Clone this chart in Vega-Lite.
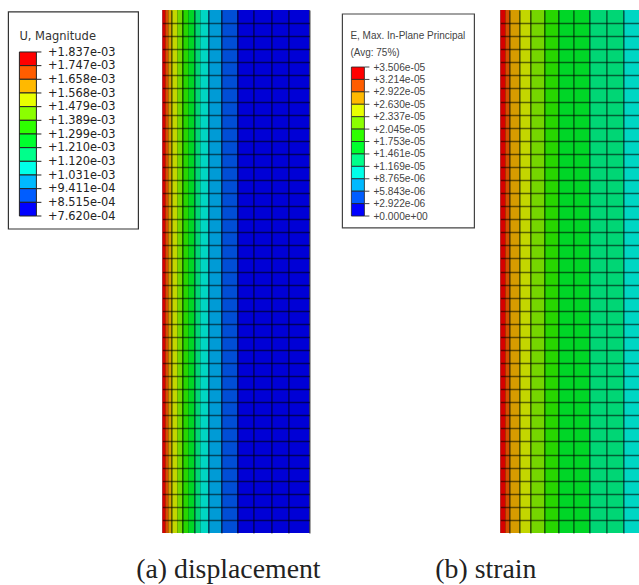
{
"$schema":"https://vega.github.io/schema/vega-lite/v6.json",
"padding":{"left":7.4,"top":10,"right":0,"bottom":0},
"background":"white",
"bounds":"flush",
"spacing":0,
"resolve":{"scale":{"color":"independent"}},
"config":{"view":{"stroke":null}},
"datasets":{
"uLevels":[
{"level":0,"next":1,"cell":0.001747,"label":"+1.837e-03"},{"level":1,"next":2,"cell":0.001658,"label":"+1.747e-03"},{"level":2,"next":3,"cell":0.001568,"label":"+1.658e-03"},{"level":3,"next":4,"cell":0.001479,"label":"+1.568e-03"},{"level":4,"next":5,"cell":0.001389,"label":"+1.479e-03"},{"level":5,"next":6,"cell":0.001299,"label":"+1.389e-03"},{"level":6,"next":7,"cell":0.00121,"label":"+1.299e-03"},{"level":7,"next":8,"cell":0.00112,"label":"+1.210e-03"},{"level":8,"next":9,"cell":0.001031,"label":"+1.120e-03"},{"level":9,"next":10,"cell":0.0009411,"label":"+1.031e-03"},{"level":10,"next":11,"cell":0.0008515,"label":"+9.411e-04"},{"level":11,"next":12,"cell":0.000762,"label":"+8.515e-04"},{"level":12,"label":"+7.620e-04"}],
"eLevels":[
{"level":0,"next":1,"cell":0.00003214,"label":"+3.506e-05"},{"level":1,"next":2,"cell":0.00002922,"label":"+3.214e-05"},{"level":2,"next":3,"cell":0.0000263,"label":"+2.922e-05"},{"level":3,"next":4,"cell":0.00002337,"label":"+2.630e-05"},{"level":4,"next":5,"cell":0.00002045,"label":"+2.337e-05"},{"level":5,"next":6,"cell":0.00001753,"label":"+2.045e-05"},{"level":6,"next":7,"cell":0.00001461,"label":"+1.753e-05"},{"level":7,"next":8,"cell":0.00001169,"label":"+1.461e-05"},{"level":8,"next":9,"cell":0.000008765,"label":"+1.169e-05"},{"level":9,"next":10,"cell":0.000005843,"label":"+8.765e-06"},{"level":10,"next":11,"cell":0.000002922,"label":"+5.843e-06"},{"level":11,"next":12,"cell":0,"label":"+2.922e-06"},{"level":12,"label":"+0.000e+00"}]
},
"hconcat":[
{"width":154,"height":523,
"layer":[
{"mark":{"type":"rect","fill":"#ffffff","stroke":"#333333","strokeWidth":1.2},"data":{"values":[{"box":"U"}]},
 "encoding":{"x":{"datum":0,"type":"quantitative","scale":{"domain":[0,154]},"axis":null},"x2":{"datum":130},"y":{"datum":-2.93,"type":"quantitative","scale":{"domain":[35.19,-3.07]},"axis":null},"y2":{"datum":12.95}}},
{"mark":{"type":"text","align":"left","baseline":"middle","dy":1.5,"font":"DejaVu Sans","fontSize":11.5,"color":"#333333"},"data":{"values":[{"t":"U, Magnitude"}]},
 "encoding":{"x":{"datum":11,"type":"quantitative","scale":{"domain":[0,154]},"axis":null},"y":{"datum":-1.24,"type":"quantitative","scale":{"domain":[35.19,-3.07]},"axis":null},"text":{"field":"t"}}},
{"data":{"name":"uLevels"},"transform":[{"filter":"datum.next != null"}],"mark":{"type":"rect","stroke":"#222222","strokeWidth":1},
 "encoding":{"x":{"datum":11,"type":"quantitative","scale":{"domain":[0,154]},"axis":null},"x2":{"datum":28},"y":{"field":"level","type":"quantitative","scale":{"domain":[35.19,-3.07]},"axis":null},"y2":{"field":"next"},
 "color":{"field":"cell","type":"quantitative","legend":null,"scale":{"type":"threshold","domain":[0.0008515,0.0009411,0.001031,0.00112,0.00121,0.001299,0.001389,0.001479,0.001568,0.001658,0.001747],"range":["#0000ff","#005dff","#00b9ff","#00ffe8","#00ff8b","#00ff2e","#2eff00","#8bff00","#e8ff00","#ffb900","#ff5d00","#ff0000"]}}}},
{"data":{"name":"uLevels"},"mark":{"type":"rule","color":"#222222","strokeWidth":1},
 "encoding":{"x":{"datum":28,"type":"quantitative","scale":{"domain":[0,154]},"axis":null},"x2":{"datum":33},"y":{"field":"level","type":"quantitative","scale":{"domain":[35.19,-3.07]},"axis":null}}},
{"data":{"name":"uLevels"},"mark":{"type":"text","align":"left","baseline":"middle","dy":0.8,"font":"DejaVu Sans","fontSize":11.4,"color":"#222222"},
 "encoding":{"x":{"datum":39.5,"type":"quantitative","scale":{"domain":[0,154]},"axis":null},"y":{"field":"level","type":"quantitative","scale":{"domain":[35.19,-3.07]},"axis":null},"text":{"field":"label"}}}
]},
{"width":147,"height":523,
"data":{"values":[
{"x0":0,"x1":3,"u":0.00179},{"x0":3,"x1":6,"u":0.0017},{"x0":6,"x1":9,"u":0.00161},{"x0":9,"x1":15,"u":0.00152},{"x0":15,"x1":20,"u":0.00143},{"x0":20,"x1":26,"u":0.00134},{"x0":26,"x1":32,"u":0.00125},{"x0":32,"x1":38,"u":0.00116},{"x0":38,"x1":46,"u":0.001075},{"x0":46,"x1":59,"u":0.000985},{"x0":59,"x1":75,"u":0.000895},{"x0":75,"x1":147,"u":0.0008}]},
"view":{"fill":"#000000"},
"mark":{"type":"rect","opacity":0.84},
"encoding":{
"x":{"field":"x0","type":"quantitative","scale":{"domain":[0,147]},
 "axis":{"title":"(a) displacement","titleFont":"Liberation Serif","titleFontSize":27.8,"titleFontWeight":"normal","titleColor":"#222222","titleX":65.5,"titleY":45,"titleBaseline":"alphabetic","titleAnchor":"middle","titleAlign":"center","values":[9,20,32,46,59,75,91,109,126,147],"labels":false,"ticks":false,"domain":false,"grid":true,"gridColor":"#000000","gridOpacity":0.55,"gridWidth":1.5,"zindex":1}},
"x2":{"field":"x1"},
"y":{"datum":0,"type":"quantitative","scale":{"domain":[40,0]},
 "axis":{"title":null,"values":[1,2,3,4,5,6,7,8,9,10,11,12,13,14,15,16,17,18,19,20,21,22,23,24,25,26,27,28,29,30,31,32,33,34,35,36,37,38,39],"labels":false,"ticks":false,"domain":false,"grid":true,"gridColor":"#000000","gridOpacity":0.55,"gridWidth":1.5,"zindex":1}},
"y2":{"datum":40},
"color":{"field":"u","type":"quantitative","legend":null,
 "scale":{"type":"threshold","domain":[0.0008515,0.0009411,0.001031,0.00112,0.00121,0.001299,0.001389,0.001479,0.001568,0.001658,0.001747],
 "range":["#0000ff","#005dff","#00b9ff","#00ffe8","#00ff8b","#00ff2e","#2eff00","#8bff00","#e8ff00","#ffb900","#ff5d00","#ff0000"]}}
}},
{"width":191,"height":523,
"layer":[
{"mark":{"type":"rect","fill":"#ffffff","stroke":"#444444","strokeWidth":1.2},"data":{"values":[{"box":"E"}]},
 "encoding":{"x":{"datum":33,"type":"quantitative","scale":{"domain":[0,191]},"axis":null},"x2":{"datum":165},"y":{"datum":-4.27,"type":"quantitative","scale":{"domain":[37.52,-4.59]},"axis":null},"y2":{"datum":12.96}}},
{"mark":{"type":"text","align":"left","baseline":"middle","dy":1.5,"font":"Liberation Sans","fontSize":10,"color":"#444444"},"data":{"values":[{"t":"E, Max. In-Plane Principal"}]},
 "encoding":{"x":{"datum":41,"type":"quantitative","scale":{"domain":[0,191]},"axis":null},"y":{"datum":-2.58,"type":"quantitative","scale":{"domain":[37.52,-4.59]},"axis":null},"text":{"field":"t"}}},
{"mark":{"type":"text","align":"left","baseline":"middle","dy":1,"font":"Liberation Sans","fontSize":10,"color":"#444444"},"data":{"values":[{"t":"(Avg: 75%)"}]},
 "encoding":{"x":{"datum":41,"type":"quantitative","scale":{"domain":[0,191]},"axis":null},"y":{"datum":-1.21,"type":"quantitative","scale":{"domain":[37.52,-4.59]},"axis":null},"text":{"field":"t"}}},
{"data":{"name":"eLevels"},"transform":[{"filter":"datum.next != null"}],"mark":{"type":"rect","stroke":"#222222","strokeWidth":0.8},
 "encoding":{"x":{"datum":42,"type":"quantitative","scale":{"domain":[0,191]},"axis":null},"x2":{"datum":55},"y":{"field":"level","type":"quantitative","scale":{"domain":[37.52,-4.59]},"axis":null},"y2":{"field":"next"},
 "color":{"field":"cell","type":"quantitative","legend":null,"scale":{"type":"threshold","domain":[0.000002922,0.000005843,0.000008765,0.00001169,0.00001461,0.00001753,0.00002045,0.00002337,0.0000263,0.00002922,0.00003214],"range":["#0000ff","#005dff","#00b9ff","#00ffe8","#00ff8b","#00ff2e","#2eff00","#8bff00","#e8ff00","#ffb900","#ff5d00","#ff0000"]}}}},
{"data":{"name":"eLevels"},"mark":{"type":"rule","color":"#444444","strokeWidth":1},
 "encoding":{"x":{"datum":55,"type":"quantitative","scale":{"domain":[0,191]},"axis":null},"x2":{"datum":60},"y":{"field":"level","type":"quantitative","scale":{"domain":[37.52,-4.59]},"axis":null}}},
{"data":{"name":"eLevels"},"mark":{"type":"text","align":"left","baseline":"middle","dy":0.5,"font":"Liberation Sans","fontSize":10.2,"color":"#444444"},
 "encoding":{"x":{"datum":64,"type":"quantitative","scale":{"domain":[0,191]},"axis":null},"y":{"field":"level","type":"quantitative","scale":{"domain":[37.52,-4.59]},"axis":null},"text":{"field":"label"}}}
]},
{"width":139,"height":523,
"data":{"values":[
{"x0":0,"x1":5,"e":0.0000335},{"x0":5,"x1":9,"e":0.000031},{"x0":9,"x1":19,"e":0.000028},{"x0":19,"x1":30,"e":0.000025},{"x0":30,"x1":44,"e":0.000022},{"x0":44,"x1":58,"e":0.000019},{"x0":58,"x1":89,"e":0.000016},{"x0":89,"x1":123,"e":0.000013},{"x0":123,"x1":139,"e":0.00001}]},
"view":{"fill":"#000000"},
"mark":{"type":"rect","opacity":0.84},
"encoding":{
"x":{"field":"x0","type":"quantitative","scale":{"domain":[0,139]},
 "axis":{"title":"(b) strain","titleFont":"Liberation Serif","titleFontSize":27.8,"titleFontWeight":"normal","titleColor":"#222222","titleX":-15,"titleY":45,"titleBaseline":"alphabetic","titleAnchor":"middle","titleAlign":"center","values":[9,19,30,44,58,73,89,106,123],"labels":false,"ticks":false,"domain":false,"grid":true,"gridColor":"#000000","gridOpacity":0.55,"gridWidth":1.5,"zindex":1}},
"x2":{"field":"x1"},
"y":{"datum":0,"type":"quantitative","scale":{"domain":[40,0]},
 "axis":{"title":null,"values":[1,2,3,4,5,6,7,8,9,10,11,12,13,14,15,16,17,18,19,20,21,22,23,24,25,26,27,28,29,30,31,32,33,34,35,36,37,38,39],"labels":false,"ticks":false,"domain":false,"grid":true,"gridColor":"#000000","gridOpacity":0.55,"gridWidth":1.5,"zindex":1}},
"y2":{"datum":40},
"color":{"field":"e","type":"quantitative","legend":null,
 "scale":{"type":"threshold","domain":[0.000002922,0.000005843,0.000008765,0.00001169,0.00001461,0.00001753,0.00002045,0.00002337,0.0000263,0.00002922,0.00003214],
 "range":["#0000ff","#005dff","#00b9ff","#00ffe8","#00ff8b","#00ff2e","#2eff00","#8bff00","#e8ff00","#ffb900","#ff5d00","#ff0000"]}}
}}
]
}
